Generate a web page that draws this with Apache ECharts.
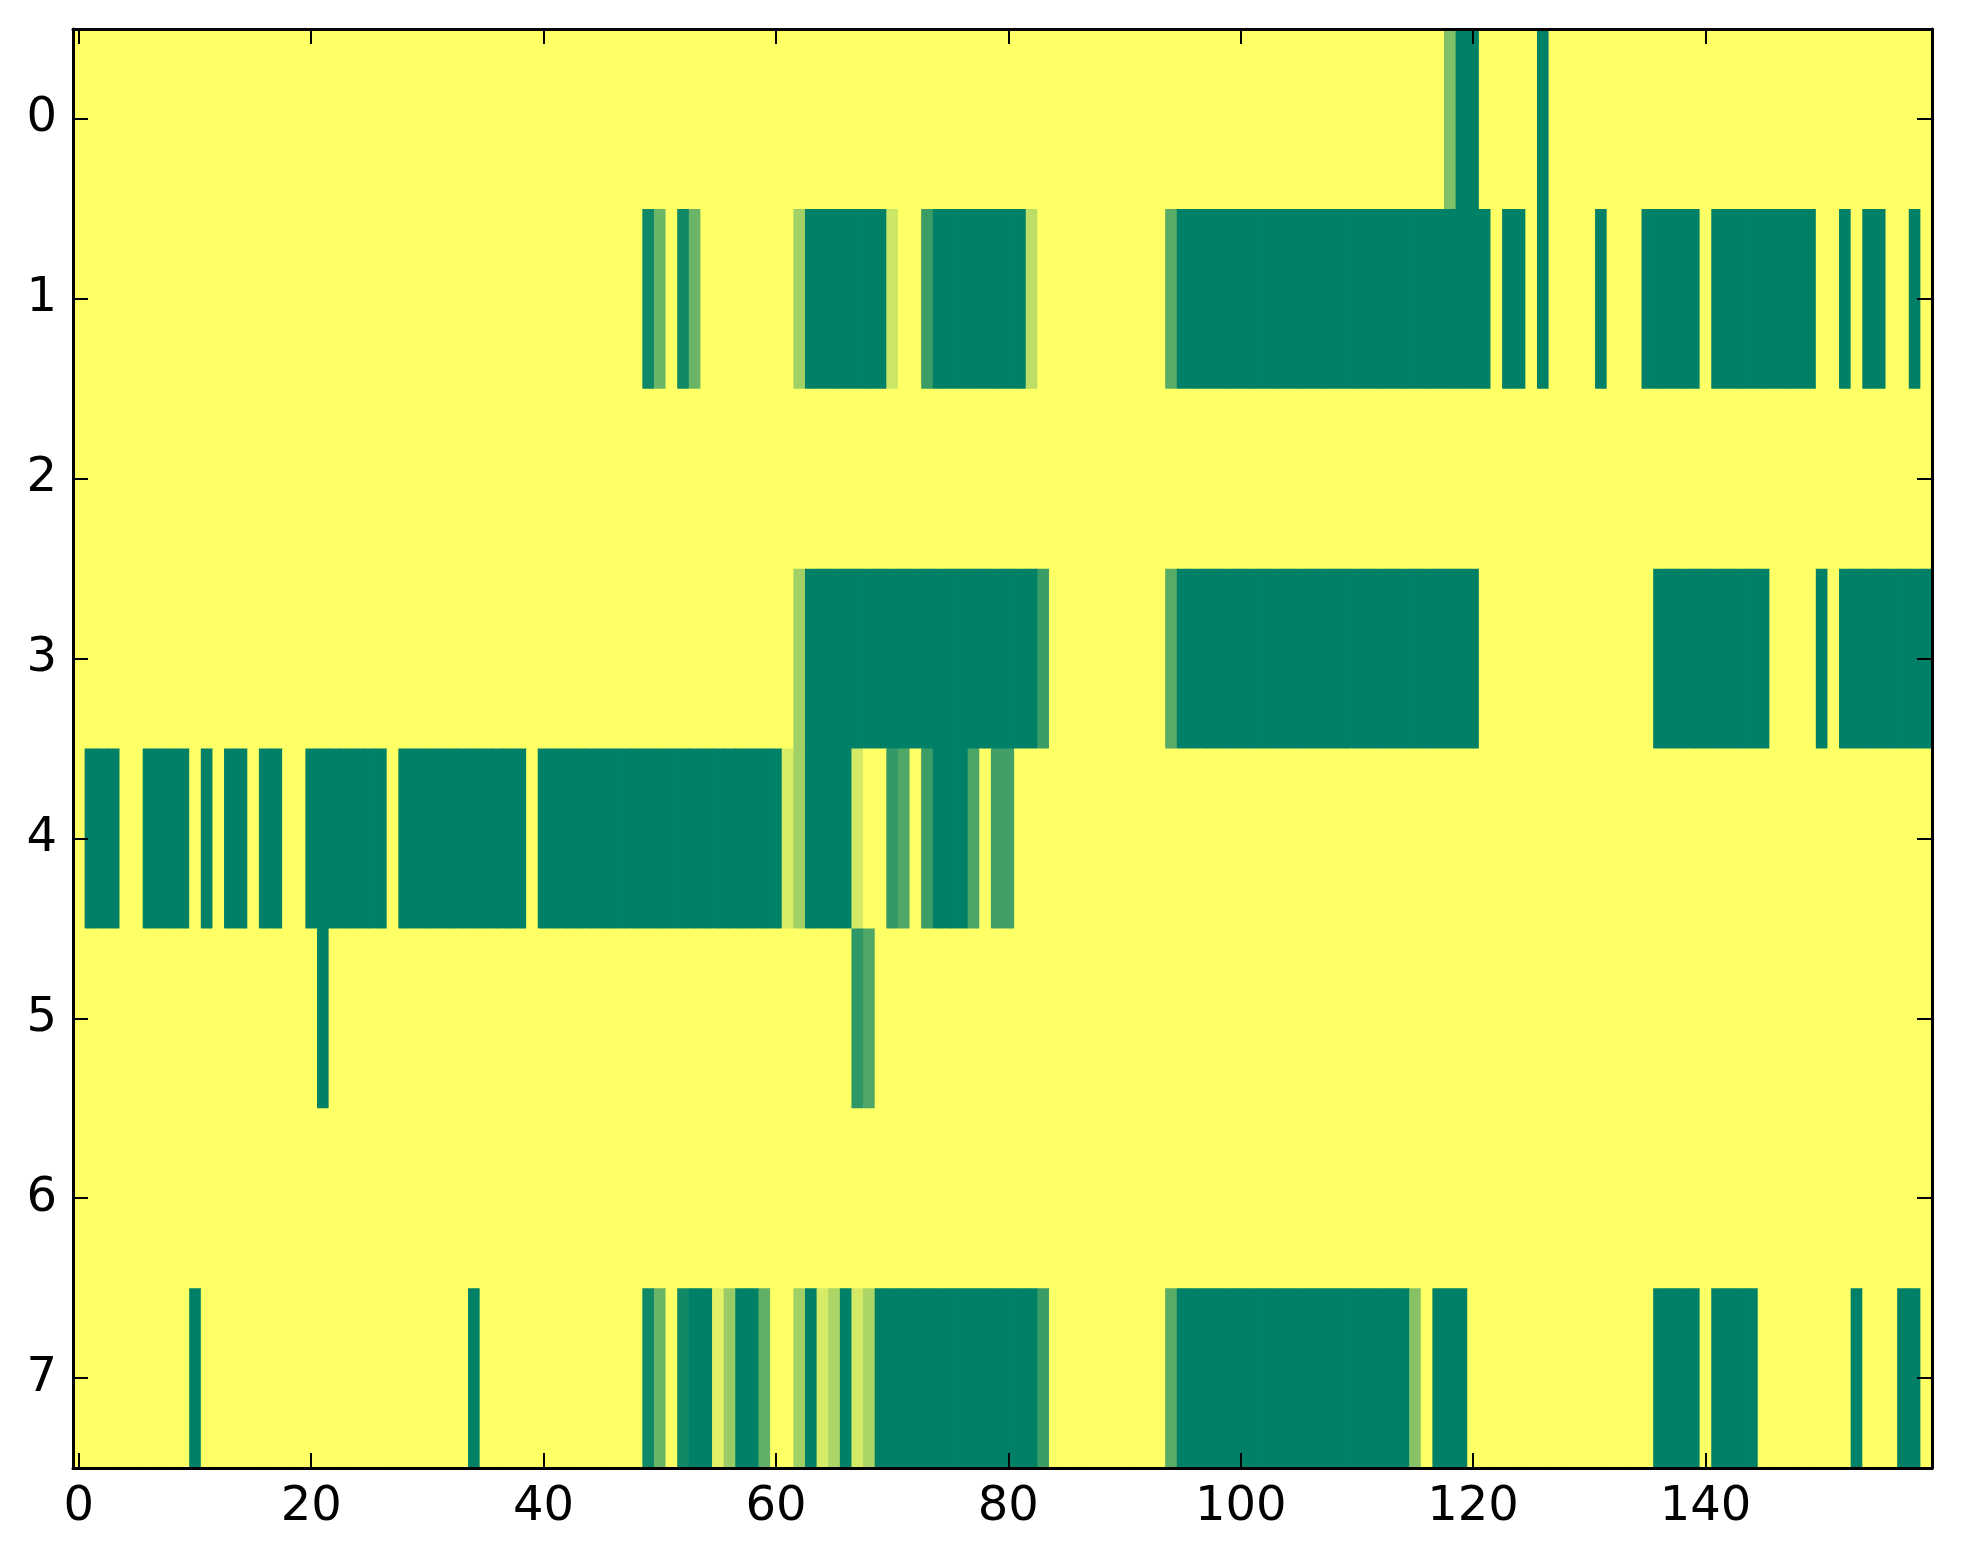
<!DOCTYPE html>
<html>
<head>
<meta charset="utf-8">
<script src="https://cdn.jsdelivr.net/npm/echarts@6/dist/echarts.min.js"></script>
<style>
  html, body { margin: 0; padding: 0; background: #ffffff; }
  #chart { width: 1963px; height: 1564px; }
</style>
</head>
<body>
<div id="chart"></div>
<script>
// Column count of the matrix (x categories 0..159) and row labels
const nCols = 160;
const rowLabels = ['0', '1', '2', '3', '4', '5', '6', '7'];
const xTickValues = [0, 20, 40, 60, 80, 100, 120, 140];

// Each row as runs: [startCol, endCol, value]  (value 0 = green, 1 = yellow)
const row0 = [[0,117,1],[118,118,0.5],[119,120,0],[121,125,1],[126,126,0],[127,159,1]];
const row1 = [[0,48,1],[49,49,0.06],[50,50,0.42],[51,51,1],[52,52,0.07],[53,53,0.42],[54,61,1],
  [62,62,0.63],[63,69,0],[70,70,0.8],[71,72,1],[73,73,0.23],[74,81,0],[82,82,0.74],[83,93,1],
  [94,94,0.35],[95,121,0],[122,122,1],[123,124,0],[125,125,1],[126,126,0],[127,130,1],[131,131,0],
  [132,134,1],[135,139,0],[140,140,1],[141,149,0],[150,151,1],[152,152,0],[153,153,1],[154,155,0],
  [156,157,1],[158,158,0],[159,159,1]];
const row2 = [[0,159,1]];
const row3 = [[0,61,1],[62,62,0.63],[63,82,0],[83,83,0.23],[84,93,1],[94,94,0.35],[95,120,0],
  [121,135,1],[136,145,0],[146,149,1],[150,150,0],[151,151,1],[152,159,0]];
const row4 = [[0,0,1],[1,3,0],[4,5,1],[6,9,0],[10,10,1],[11,11,0],[12,12,1],[13,14,0],[15,15,1],
  [16,17,0],[18,19,1],[20,26,0],[27,27,1],[28,38,0],[39,39,1],[40,60,0],[61,61,0.85],[62,62,0.63],
  [63,66,0],[67,67,0.83],[68,69,1],[70,70,0.2],[71,71,0.31],[72,72,1],[73,73,0.23],[74,76,0],
  [77,77,0.29],[78,78,1],[79,80,0.25],[81,159,1]];
const row5 = [[0,20,1],[21,21,0],[22,66,1],[67,67,0.18],[68,68,0.31],[69,159,1]];
const row6 = [[0,159,1]];
const row7 = [[0,9,1],[10,10,0],[11,33,1],[34,34,0],[35,48,1],[49,49,0.06],[50,50,0.42],[51,51,1],
  [52,52,0.07],[53,54,0],[55,55,0.89],[56,56,0.6],[57,58,0],[59,59,0.38],[60,61,1],[62,62,0.63],
  [63,63,0],[64,64,0.84],[65,65,0.67],[66,66,0],[67,67,0.83],[68,68,0.67],[69,82,0],[83,83,0.23],
  [84,93,1],[94,94,0.35],[95,114,0],[115,115,0.53],[116,116,1],[117,119,0],[120,135,1],[136,139,0],
  [140,140,1],[141,144,0],[145,152,1],[153,153,0],[154,156,1],[157,158,0],[159,159,1]];

const rows = [row0, row1, row2, row3, row4, row5, row6, row7];

const xCategories = [];
for (let i = 0; i < nCols; i++) xCategories.push(String(i));

const cells = [];
rows.forEach(function (runs, r) {
  runs.forEach(function (run) {
    for (let c = run[0]; c <= run[1]; c++) cells.push([c, r, run[2]]);
  });
});

const FONT = 'DejaVu Sans';
const isXTick = function (index) { return xTickValues.indexOf(index) >= 0; };
const lineStyle = { color: '#000', width: 3 };
const tickStyle = { color: '#000', width: 2 };

function axisCommon(extra) {
  return Object.assign({
    boundaryGap: true,
    z: 10,
    axisLine: { show: true, onZero: false, lineStyle: lineStyle },
    splitLine: { show: false }
  }, extra);
}

const chart = echarts.init(document.getElementById('chart'), null, { renderer: 'canvas' });
chart.setOption({
  animation: false,
  backgroundColor: '#ffffff',
  grid: { left: 73, right: 31, top: 29, bottom: 96, containLabel: false },
  xAxis: [
    axisCommon({
      type: 'category', data: xCategories, position: 'bottom',
      axisTick: { show: true, inside: true, length: 15, alignWithLabel: true, interval: isXTick, lineStyle: tickStyle },
      axisLabel: { show: true, interval: isXTick, margin: 16, color: '#000', fontSize: 48, fontFamily: FONT }
    }),
    axisCommon({
      type: 'category', data: xCategories, position: 'top',
      axisTick: { show: true, inside: true, length: 15, alignWithLabel: true, interval: isXTick, lineStyle: tickStyle },
      axisLabel: { show: false }
    })
  ],
  yAxis: [
    axisCommon({
      type: 'category', data: rowLabels, position: 'left', inverse: true,
      axisTick: { show: true, inside: true, length: 15, alignWithLabel: true, interval: 0, lineStyle: tickStyle },
      axisLabel: { show: true, interval: 0, margin: 16, color: '#000', fontSize: 48, fontFamily: FONT }
    }),
    axisCommon({
      type: 'category', data: rowLabels, position: 'right', inverse: true,
      axisTick: { show: true, inside: true, length: 15, alignWithLabel: true, interval: 0, lineStyle: tickStyle },
      axisLabel: { show: false }
    })
  ],
  visualMap: {
    show: false, type: 'continuous', min: 0, max: 1, dimension: 2, seriesIndex: 0,
    inRange: { color: ['#008066', '#ffff66'] }
  },
  series: [{
    type: 'custom',
    xAxisIndex: 0, yAxisIndex: 0,
    data: cells,
    encode: { x: 0, y: 1 },
    z: 1,
    silent: true,
    renderItem: function (params, api) {
      const p = api.coord([api.value(0), api.value(1)]);
      const s = api.size([1, 1]);
      return {
        type: 'rect',
        shape: { x: p[0] - s[0] / 2, y: p[1] - s[1] / 2, width: s[0] + 0.8, height: s[1] + 0.8 },
        style: { fill: api.visual('color') }
      };
    }
  }]
});
</script>
</body>
</html>
